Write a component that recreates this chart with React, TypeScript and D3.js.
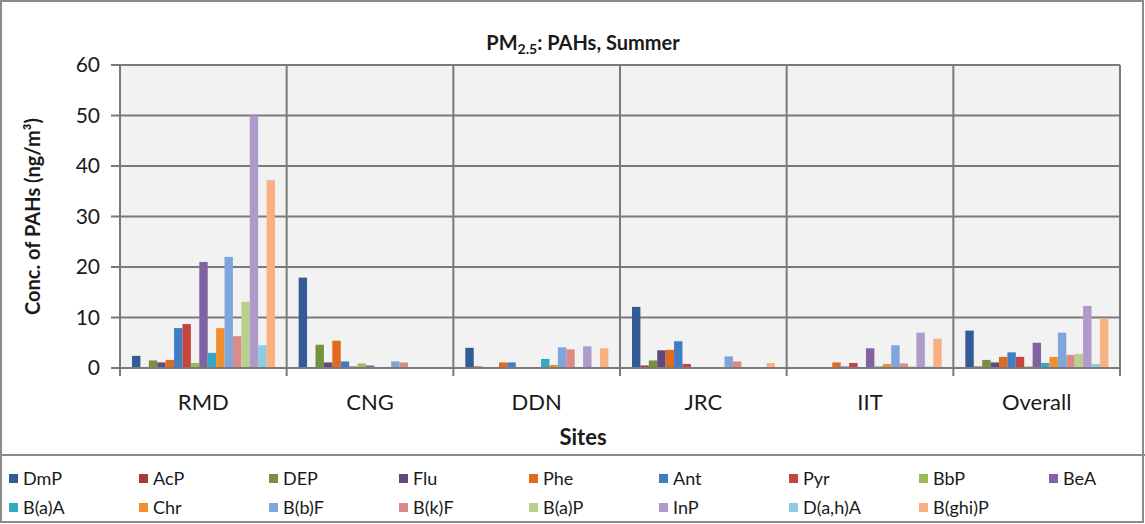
import React from "react";
import * as d3 from "d3";

const sites = ["RMD", "CNG", "DDN", "JRC", "IIT", "Overall"];
const seriesNames = ["DmP", "AcP", "DEP", "Flu", "Phe", "Ant", "Pyr", "BbP", "BeA", "B(a)A", "Chr", "B(b)F", "B(k)F", "B(a)P", "InP", "D(a,h)A", "B(ghi)P"];
const seriesColors = ["#335C96", "#A83A37", "#76923C", "#5F4A80", "#E06B1C", "#3F7DC4", "#C4463F", "#9BBB59", "#8064A2", "#35A8C4", "#F28E2E", "#7FA6DC", "#DA8A88", "#B8D08C", "#AE9BCB", "#8FCBE0", "#F9B182"];
// values per site, in series order
const RMD = [2.4, 0.2, 1.5, 1.1, 1.6, 7.9, 8.7, 1.0, 21.0, 3.0, 7.9, 22.0, 6.3, 13.1, 50.0, 4.5, 37.2];
const CNG = [17.9, 0.2, 4.6, 1.1, 5.4, 1.3, 0.3, 0.9, 0.5, 0.1, 0.1, 1.3, 1.1, 0.2, 0.1, 0.1, 0.1];
const DDN = [4.0, 0.3, 0.1, 0.2, 1.1, 1.1, 0.1, 0.1, 0.2, 1.8, 0.6, 4.1, 3.7, 0.2, 4.3, 0.2, 3.9];
const JRC = [12.1, 0.5, 1.5, 3.5, 3.6, 5.3, 0.8, 0.2, 0.1, 0.1, 0.1, 2.3, 1.3, 0.2, 0.2, 0.2, 1.0];
const IIT = [0.2, 0.1, 0.1, 0.2, 1.1, 0.3, 1.0, 0.2, 3.9, 0.3, 0.8, 4.5, 0.9, 0.3, 7.0, 0.3, 5.8];
const Overall = [7.4, 0.3, 1.6, 1.1, 2.2, 3.1, 2.2, 0.3, 5.0, 1.0, 2.2, 7.0, 2.6, 2.8, 12.3, 0.8, 9.8];
const siteValues = [RMD, CNG, DDN, JRC, IIT, Overall];
const yTicks = [0, 10, 20, 30, 40, 50, 60];

const W = 1145;
const H = 524;
const plot = { left: 120, right: 1120, top: 65, bottom: 368 };
const FONT = "Lato, 'Open Sans', sans-serif";

export default function App() {
  const x0 = d3.scaleBand().domain(sites).range([plot.left, plot.right]).padding(0);
  const bw = x0.bandwidth();
  const x1 = d3.scaleBand().domain(seriesNames).range([bw * 0.072, bw * 0.93]).padding(0);
  const y = d3.scaleLinear().domain([0, 60]).range([plot.bottom, plot.top]);

  const legendRows = [seriesNames.slice(0, 9), seriesNames.slice(9)];
  const legendX0 = 9;
  const legendStep = 130;

  return (
    <svg width={W} height={H} style={{ position: "absolute", left: 0, top: 0, background: "#fff" }}>
      <rect x={1} y={1} width={W - 3} height={H - 3} fill="#fff" stroke="#8c8c8c" strokeWidth={2} />
      <rect x={plot.left} y={plot.top} width={plot.right - plot.left} height={plot.bottom - plot.top} fill="#f2f2f2" />
      {/* horizontal gridlines */}
      {yTicks.map((t) => (
        <line key={"h" + t} x1={plot.left - 9} x2={plot.right} y1={y(t)} y2={y(t)} stroke="#7a7a7a" strokeWidth={2} />
      ))}
      {/* vertical gridlines */}
      {sites.map((s) => (
        <line key={"v" + s} x1={x0(s)!} x2={x0(s)!} y1={plot.top} y2={plot.bottom + 8} stroke="#7a7a7a" strokeWidth={2} />
      ))}
      <line x1={plot.right} x2={plot.right} y1={plot.top} y2={plot.bottom + 8} stroke="#7a7a7a" strokeWidth={2} />
      {/* bars */}
      {sites.map((s, si) => (
        <g key={s} transform={`translate(${x0(s)},0)`}>
          {seriesNames.map((n, i) => {
            const v = siteValues[si][i];
            return (
              <rect key={n} x={x1(n)!} y={y(v)} width={x1.bandwidth()} height={y(0) - y(v)} fill={seriesColors[i]} />
            );
          })}
        </g>
      ))}
      <line x1={plot.left} x2={plot.right} y1={y(0)} y2={y(0)} stroke="#7a7a7a" strokeWidth={2} />
      {/* y tick labels */}
      {yTicks.map((t) => (
        <text key={"yl" + t} x={100} y={y(t) + 7} textAnchor="end" fontSize={21} fontFamily={FONT} fill="#1a1a1a">
          {t}
        </text>
      ))}
      {/* x labels */}
      {sites.map((s) => (
        <text key={"xl" + s} x={x0(s)! + bw / 2} y={410} textAnchor="middle" fontSize={22} fontFamily={FONT} fill="#1a1a1a">
          {s}
        </text>
      ))}
      {/* title */}
      <text x={583} y={50} textAnchor="middle" fontSize={20} fontWeight="bold" fontFamily={FONT} fill="#1a1a1a">
        PM<tspan fontSize={14} dy={4}>2.5</tspan>
        <tspan dy={-4}>: PAHs, Summer</tspan>
      </text>
      {/* axis titles */}
      <text transform={`translate(40,${(plot.top + plot.bottom) / 2}) rotate(-90)`} textAnchor="middle" fontSize={20} fontWeight="bold" fontFamily={FONT} fill="#1a1a1a">
        Conc. of PAHs (ng/m³)
      </text>
      <text x={583} y={445} textAnchor="middle" fontSize={22} fontWeight="bold" fontFamily={FONT} fill="#1a1a1a">
        Sites
      </text>
      {/* legend */}
      <line x1={0} x2={W} y1={455} y2={455} stroke="#8c8c8c" strokeWidth={2} />
      {legendRows.map((row, ri) =>
        row.map((n, ci) => {
          const idx = seriesNames.indexOf(n);
          const lx = legendX0 + ci * legendStep;
          const ly = 479 + ri * 29;
          return (
            <g key={n}>
              <rect x={lx} y={ly - 5} width={9} height={9} fill={seriesColors[idx]} />
              <text x={lx + 14} y={ly + 6} fontSize={18} fontFamily={FONT} fill="#1a1a1a">
                {n}
              </text>
            </g>
          );
        })
      )}
    </svg>
  );
}
